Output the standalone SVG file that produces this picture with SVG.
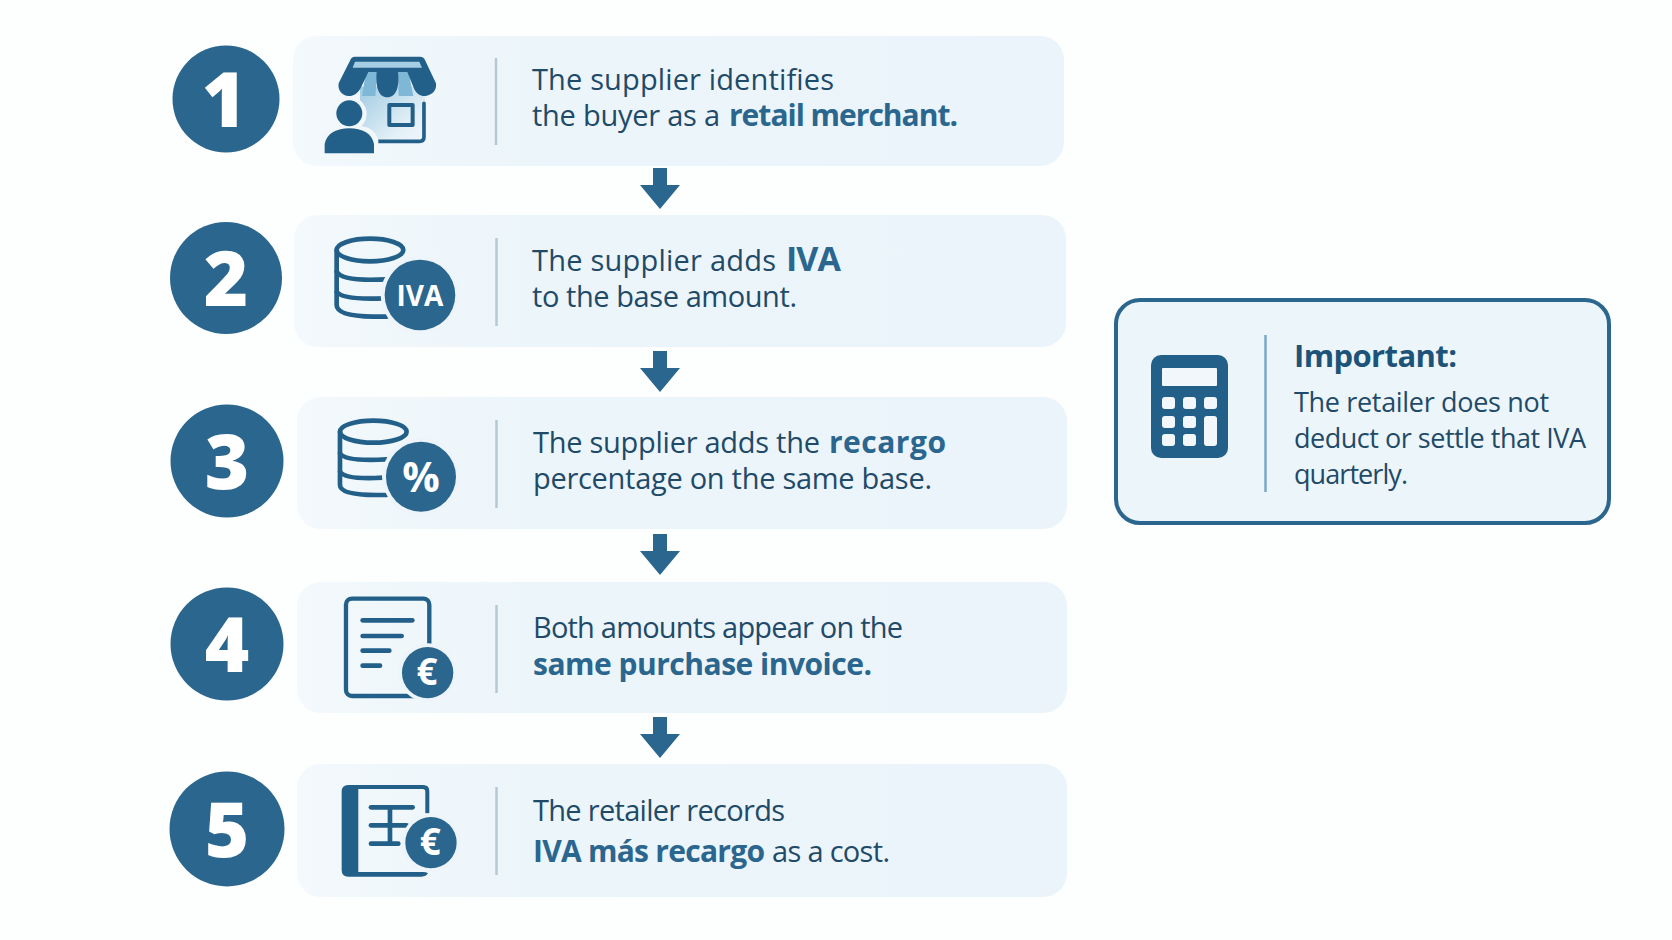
<svg xmlns="http://www.w3.org/2000/svg" width="1672" height="940" viewBox="0 0 1672 940">
<defs>
<linearGradient id="cardFill" x1="0" y1="0" x2="1" y2="0"><stop offset="0" stop-color="#f3f9fc"/><stop offset="0.3" stop-color="#ecf5fa"/><stop offset="1" stop-color="#ebf4fa"/></linearGradient>
<linearGradient id="wallFill" x1="0" y1="0" x2="1" y2="1"><stop offset="0" stop-color="#9fcbe2"/><stop offset="0.7" stop-color="#e4f0f7"/><stop offset="1" stop-color="#f0f6fb"/></linearGradient>
<path id="arrow" d="M-7 0H7V17H20L0 41L-20 17H-7Z"/>
</defs>
<style>
text{font-family:"Open Sans","Liberation Sans",sans-serif;font-variant-ligatures:none}
.bg{fill:#fdfefe}
.card{fill:url(#cardFill)}
.badge{fill:#2a668e}
.num{fill:#fff;font-size:76px;font-weight:800;text-anchor:middle}
.div{stroke:#b4c8d6;stroke-width:2.5;fill:none}
.t{font-size:29px;fill:#1f4a68}
.b{font-weight:700;font-size:30px;fill:#2a668e}
.ic{fill:none;stroke:#22608a;stroke-linecap:round;stroke-linejoin:round}
.fd{fill:#22608a}
.bt{fill:#fff;font-weight:700;text-anchor:middle}
.arr{fill:#2a668e}
.call{fill:#ecf5fa;stroke:#2a668e;stroke-width:4}
.cbtn{fill:#f2f7fb}
.ct{font-size:27px;fill:#1f4a68}
.ch{font-size:31px;font-weight:700;fill:#1d5378}
</style>
<rect class="bg" width="1672" height="940"/>
<g id="connectors">
<use href="#arrow" class="arr" x="660" y="168"/>
<use href="#arrow" class="arr" x="660" y="351"/>
<use href="#arrow" class="arr" x="660" y="534"/>
<use href="#arrow" class="arr" x="660" y="717"/>
</g>
<g id="step1">
<rect class="card" x="293" y="36" width="771" height="130" rx="24"/>
<circle class="badge" cx="226" cy="99" r="53.5"/>
<text class="num" x="224" y="127">1</text>
<g transform="translate(160 20) scale(.3333)">
<rect x="600" y="200" width="195" height="168" fill="url(#wallFill)"/>
<path class="ic" stroke-width="11" d="M792 250V350Q792 364 778 364H650"/>
<rect class="ic" stroke-width="12" x="688" y="255" width="70" height="60"/>
<path d="M618 156H652L646 228H606Z" fill="#7fb7d6"/>
<path d="M714 156H746L760 228H716Z" fill="#7fb7d6"/>
<path class="fd" d="M585 110H780Q792 110 796 122L828 190C832 215 810 228 795 228C778 228 766 218 760 200L742 156H714C720 200 708 232 682 232C656 232 646 200 650 156H625L604 200C596 218 582 228 566 228C548 228 532 212 536 190L570 122Q574 110 585 110Z"/>
<path d="M585 125H778L786 143H578Z" fill="#a5cde3"/>
<circle cx="568" cy="282" r="52" fill="#f2f7fb"/>
<path d="M480 400V360C490 325 520 315 568 315C616 315 645 325 655 360V400Z" fill="#f2f7fb"/>
<circle class="fd" cx="568" cy="280" r="39"/>
<path class="fd" d="M494 400V372C500 340 530 325 568 325C606 325 636 340 642 372V400Z"/>
</g>
<line class="div" x1="496" y1="58" x2="496" y2="145"/>
<text class="t" x="532" y="90" textLength="302">The supplier identifies</text>
<text class="t" y="126"><tspan x="532" textLength="188">the buyer as a</tspan> <tspan class="b" x="729" textLength="229">retail merchant.</tspan></text>
</g>
<g id="step2">
<rect class="card" x="294" y="215" width="772" height="132" rx="24"/>
<circle class="badge" cx="226" cy="278" r="56"/>
<text class="num" x="226" y="306">2</text>
<g transform="translate(160 20) scale(.3333)">
<g class="ic" stroke-width="14">
<ellipse cx="630" cy="690" rx="100" ry="34"/>
<path d="M530 690V855Q530 888 640 890H680"/>
<path d="M530 755Q545 785 680 778"/>
<path d="M530 815Q545 840 670 835"/>
</g>
<circle cx="780" cy="825" r="118" fill="#edf5fa"/>
<circle class="badge" cx="780" cy="825" r="106"/>
<text class="bt" x="780" y="857" font-size="84">IVA</text>
</g>
<line class="div" x1="496.500" y1="238" x2="496.500" y2="326"/>
<text class="t" y="271"><tspan x="532" textLength="244">The supplier adds</tspan> <tspan class="b" font-size="34" style="font-size:34px" x="786" textLength="55">IVA</tspan></text>
<text class="t" x="532" y="307" textLength="265">to the base amount.</text>
</g>
<g id="step3">
<rect class="card" x="297" y="397" width="770" height="132" rx="24"/>
<circle class="badge" cx="227" cy="461" r="56.500"/>
<text class="num" x="227" y="489">3</text>
<g transform="translate(160 390) scale(.3333)">
<g class="ic" stroke-width="14">
<ellipse cx="640" cy="125" rx="100" ry="33"/>
<path d="M540 125V285Q540 315 650 315H680"/>
<path d="M540 190Q555 215 680 208"/>
<path d="M540 245Q555 270 670 263"/>
</g>
<circle cx="783" cy="260" r="117" fill="#edf5fa"/>
<circle class="badge" cx="783" cy="260" r="105"/>
<text class="bt" x="783" y="307" font-size="125">%</text>
</g>
<line class="div" x1="496.500" y1="420" x2="496.500" y2="508"/>
<text class="t" y="453"><tspan x="533" textLength="287">The supplier adds the</tspan> <tspan class="b" x="829" textLength="117">recargo</tspan></text>
<text class="t" x="533" y="489" textLength="399">percentage on the same base.</text>
</g>
<g id="step4">
<rect class="card" x="297" y="582" width="770" height="131" rx="24"/>
<circle class="badge" cx="227" cy="644" r="56.500"/>
<text class="num" x="227" y="672">4</text>
<g transform="translate(160 390) scale(.3333)">
<rect class="ic" stroke-width="13" x="558" y="626" width="250" height="292" rx="18"/>
<g class="ic" stroke-width="14">
<line x1="608" y1="691" x2="757" y2="691"/>
<line x1="608" y1="738" x2="725" y2="738"/>
<line x1="608" y1="782" x2="688" y2="782"/>
<line x1="608" y1="827" x2="660" y2="827"/>
</g>
<circle cx="803" cy="848" r="88" fill="#edf5fa"/>
<circle class="badge" cx="803" cy="848" r="77"/>
<text class="bt" x="801" y="886" font-size="110">€</text>
</g>
<line class="div" x1="496.500" y1="605" x2="496.500" y2="693"/>
<text class="t" x="533" y="638" textLength="370">Both amounts appear on the</text>
<text class="t b" x="533" y="675" textLength="339">same purchase invoice.</text>
</g>
<g id="step5">
<rect class="card" x="297" y="764" width="770" height="133" rx="24"/>
<circle class="badge" cx="227" cy="829" r="57.500"/>
<text class="num" x="227" y="857">5</text>
<g transform="translate(160 720) scale(.3333)">
<path class="fd" d="M565 195H790Q808 195 808 213V280H796V215Q796 207 788 207H595V456H790Q798 456 804 460Q798 470 785 470H565Q545 470 545 450V215Q545 195 565 195Z"/>
<g class="ic" stroke-width="14">
<line x1="633" y1="262" x2="758" y2="262"/>
<line x1="633" y1="316" x2="740" y2="316"/>
<line x1="633" y1="371" x2="715" y2="371"/>
<line x1="690" y1="262" x2="690" y2="371"/>
</g>
<circle cx="813" cy="368" r="88" fill="#edf5fa"/>
<circle class="badge" cx="813" cy="368" r="77"/>
<text class="bt" x="811" y="406" font-size="110">€</text>
</g>
<line class="div" x1="496.500" y1="787" x2="496.500" y2="875"/>
<text class="t" x="533" y="821" textLength="252">The retailer records</text>
<text class="t" y="862"><tspan class="b" x="533" textLength="232">IVA más recargo</tspan> <tspan x="772" textLength="118">as a cost.</tspan></text>
</g>
<g id="callout">
<rect class="call" x="1116" y="300" width="493" height="223" rx="24"/>
<rect class="fd" x="1151" y="355" width="77" height="103" rx="10"/>
<rect class="cbtn" x="1162" y="368" width="55" height="18" rx="1"/>
<rect class="cbtn" x="1162" y="397" width="13" height="12" rx="3"/><rect class="cbtn" x="1183" y="397" width="13" height="12" rx="3"/><rect class="cbtn" x="1204" y="397" width="13" height="12" rx="3"/>
<rect class="cbtn" x="1162" y="416" width="13" height="12" rx="3"/><rect class="cbtn" x="1183" y="416" width="13" height="12" rx="3"/><rect class="cbtn" x="1204" y="416" width="13" height="30" rx="3"/>
<rect class="cbtn" x="1162" y="434" width="13" height="12" rx="3"/><rect class="cbtn" x="1183" y="434" width="13" height="12" rx="3"/>
<line x1="1265.500" y1="335" x2="1265.500" y2="492" stroke="#7aa8c8" stroke-width="2.500"/>
<text class="ch" x="1294" y="367" textLength="163">Important:</text>
<text class="ct" x="1294" y="412" textLength="255">The retailer does not</text>
<text class="ct" x="1294" y="448" textLength="292">deduct or settle that IVA</text>
<text class="ct" x="1294" y="484" textLength="114">quarterly.</text>
</g>
</svg>
